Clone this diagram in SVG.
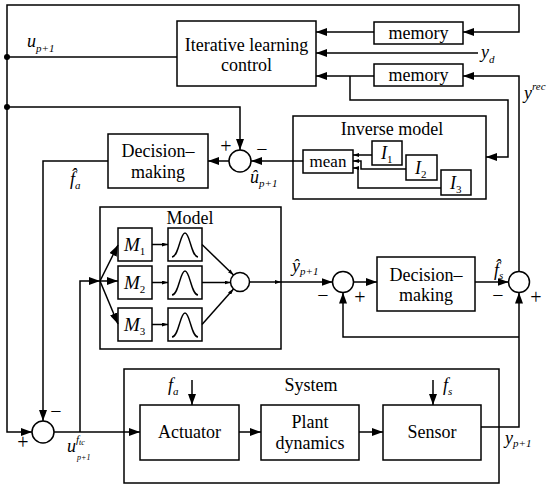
<svg xmlns="http://www.w3.org/2000/svg" width="550" height="489" viewBox="0 0 550 489">
<style>
.b{fill:#fff;stroke:#000;stroke-width:1.5}
.c{fill:none;stroke:#000;stroke-width:1.5}
text{font-family:'Liberation Serif','Times New Roman','DejaVu Serif',serif;fill:#000}
.t{font-size:18px;text-anchor:middle}
.mi{font-size:18px;font-style:italic}
.sb{font-size:11px}
.up{font-style:normal}
.sg{font-size:20px;text-anchor:middle}
</style>
<defs>
<marker id="a" markerUnits="userSpaceOnUse" markerWidth="11" markerHeight="8" refX="11" refY="4" orient="auto"><path d="M0,0 L11,4 L0,8 z" fill="#000"/></marker>
<marker id="s" markerUnits="userSpaceOnUse" markerWidth="6" markerHeight="4" refX="6" refY="2" orient="auto"><path d="M0,0 L6,2 L0,4 z" fill="#000"/></marker>
</defs>
<rect width="550" height="489" fill="#fff"/>

<g id="ilc"><rect class="b" x="177" y="21" width="139" height="65"/>
<text class="t" x="246.5" y="51">Iterative learning</text><text class="t" x="246.5" y="71">control</text></g>
<g id="memory1"><rect class="b" x="374" y="22" width="89" height="22"/><text class="t" x="418.5" y="39">memory</text></g>
<g id="memory2"><rect class="b" x="374" y="64" width="89" height="22"/><text class="t" x="418.5" y="81">memory</text></g>

<g id="inverse-model"><rect class="b" x="293" y="116" width="193" height="83"/>
<text class="t" x="392" y="135">Inverse model</text>
<rect class="b" x="303" y="150" width="50" height="23"/><text class="t" x="328" y="167" style="font-size:17px">mean</text>
<rect class="b" x="372" y="141" width="30" height="24"/><text class="mi" x="381" y="159">I<tspan class="sb up" dy="4">1</tspan></text>
<rect class="b" x="406" y="155" width="31" height="25"/><text class="mi" x="415" y="174">I<tspan class="sb up" dy="4">2</tspan></text>
<rect class="b" x="441" y="170" width="30" height="25"/><text class="mi" x="450" y="189">I<tspan class="sb up" dy="4">3</tspan></text>
</g>

<g id="sum-a"><circle class="b" cx="240" cy="161" r="11"/><text class="sg" x="226" y="153">+</text><text class="sg" x="262" y="156">−</text></g>
<g id="decision1"><rect class="b" x="108" y="134" width="100" height="54"/>
<text class="t" x="158" y="157">Decision–</text><text class="t" x="158" y="178">making</text></g>

<g id="model"><rect class="b" x="100" y="207" width="181" height="142"/>
<text class="t" x="190" y="224">Model</text>
<rect class="b" x="118" y="228" width="34" height="33"/><text class="mi" x="124" y="251" style="font-size:19px">M<tspan class="sb up" dy="4">1</tspan></text>
<rect class="b" x="118" y="266" width="34" height="33"/><text class="mi" x="124" y="289" style="font-size:19px">M<tspan class="sb up" dy="4">2</tspan></text>
<rect class="b" x="118" y="308" width="34" height="33"/><text class="mi" x="124" y="331" style="font-size:19px">M<tspan class="sb up" dy="4">3</tspan></text>
<rect class="b" x="168" y="228" width="34" height="33"/><path class="c" d="M172,257 C179,256 180,233 185,233 C190,233 191,256 198,257"/>
<rect class="b" x="168" y="266" width="34" height="33"/><path class="c" d="M172,295 C179,294 180,271 185,271 C190,271 191,294 198,295"/>
<rect class="b" x="168" y="308" width="34" height="33"/><path class="c" d="M172,337 C179,336 180,313 185,313 C190,313 191,336 198,337"/>
<circle class="b" cx="240" cy="282" r="9.5"/>
</g>

<g id="sum-1"><circle class="b" cx="343" cy="282" r="10.5"/><text class="sg" x="323" y="302">−</text><text class="sg" x="360" y="304">+</text></g>
<g id="decision2"><rect class="b" x="377" y="257" width="98" height="54"/>
<text class="t" x="426" y="281">Decision–</text><text class="t" x="426" y="301">making</text></g>
<g id="sum-2"><circle class="b" cx="519" cy="282" r="10.5"/><text class="sg" x="498" y="302">−</text><text class="sg" x="536" y="304">+</text></g>

<g id="sum-b"><circle class="b" cx="43" cy="432" r="11"/><text class="sg" x="56" y="418">−</text><text class="sg" x="23" y="449">+</text></g>

<g id="system"><rect class="b" x="124" y="369" width="375" height="114"/>
<text class="t" x="311" y="391">System</text>
<rect class="b" x="140" y="405" width="99" height="55"/><text class="t" x="189.5" y="438">Actuator</text>
<rect class="b" x="261" y="405" width="98" height="55"/><text class="t" x="310" y="428">Plant</text><text class="t" x="310" y="449">dynamics</text>
<rect class="b" x="383" y="405" width="98" height="55"/><text class="t" x="432" y="438">Sensor</text>
<text class="mi" x="168" y="391">f<tspan class="sb" dy="4">a</tspan></text>
<text class="mi" x="443" y="391">f<tspan class="sb" dy="4">s</tspan></text>
</g>

<g id="labels">
<text class="mi" x="27" y="47">u<tspan class="sb" dy="5">p+1</tspan></text>
<text class="mi" x="250" y="183">û<tspan class="sb" dy="4">p+1</tspan></text>
<text class="mi" x="70" y="185">f̂<tspan class="sb" dy="4">a</tspan></text>
<text class="mi" x="292" y="272">ŷ<tspan class="sb" dy="3">p+1</tspan></text>
<text class="mi" x="494" y="276">f̂<tspan class="sb" dy="3">s</tspan></text>
<text class="mi" x="481" y="58">y<tspan class="sb" dy="5">d</tspan></text>
<text class="mi" x="524" y="99">y<tspan class="sb" dy="-9">rec</tspan></text>
<text class="mi" x="505" y="444">y<tspan class="sb" dy="3">p+1</tspan></text>
<text class="mi" x="67" y="452">u<tspan class="sb" dy="-9">f</tspan><tspan style="font-size:8px" dy="2">tc</tspan></text>
<text class="mi" x="77" y="460" style="font-size:8px">p+1</text>
</g>

<g id="connectors">
<path class="c" d="M7,57 V5 H519 V32 H463" marker-end="url(#a)"/>
<path class="c" d="M177,57 H7"/>
<path class="c" d="M7,57 V432 H32" marker-end="url(#a)"/>
<path class="c" d="M7,107 H240 V150" marker-end="url(#a)"/>
<path class="c" d="M374,32 H316" marker-end="url(#a)"/>
<path class="c" d="M478,53 H316" marker-end="url(#a)"/>
<path class="c" d="M374,76 H316" marker-end="url(#a)"/>
<path class="c" d="M350,76 V100 H508 V157 H486" marker-end="url(#a)"/>
<path class="c" d="M519,271.5 V76 H463" marker-end="url(#a)"/>
<path class="c" d="M303,161 H251" marker-end="url(#a)"/>
<path class="c" d="M229,161 H208" marker-end="url(#a)"/>
<path class="c" d="M108,161 H43 V421" marker-end="url(#a)"/>
<path class="c" d="M54,432 H140" marker-end="url(#a)"/>
<path class="c" d="M80,432 V281 H100" marker-end="url(#a)"/>
<path class="c" d="M100,281 L118,245" marker-end="url(#a)"/>
<path class="c" d="M100,281 H118" marker-end="url(#a)"/>
<path class="c" d="M100,281 L118,324" marker-end="url(#a)"/>
<path class="c" d="M152,244.5 H168" marker-end="url(#s)"/>
<path class="c" d="M152,282.5 H168" marker-end="url(#s)"/>
<path class="c" d="M152,324.5 H168" marker-end="url(#s)"/>
<path class="c" d="M202,244.5 L233.5,275" marker-end="url(#s)"/>
<path class="c" d="M202,282.5 H230.5" marker-end="url(#s)"/>
<path class="c" d="M202,324.5 L233.5,289" marker-end="url(#s)"/>
<path class="c" d="M249.5,282 H281" marker-end="url(#s)"/>
<path class="c" d="M281,282 H332.5" marker-end="url(#a)"/>
<path class="c" d="M353.5,282 H377" marker-end="url(#a)"/>
<path class="c" d="M475,282 H508.5" marker-end="url(#a)"/>
<path class="c" d="M481,427 H519 V292.5" marker-end="url(#a)"/>
<path class="c" d="M519,337 H343 V292.5" marker-end="url(#a)"/>
<path class="c" d="M192,380 V405" marker-end="url(#a)"/>
<path class="c" d="M433,380 V405" marker-end="url(#a)"/>
<path class="c" d="M239,432 H261" marker-end="url(#a)"/>
<path class="c" d="M359,432 H383" marker-end="url(#a)"/>
<path class="c" d="M372,155 H353" marker-end="url(#s)"/>
<path class="c" d="M406,169 H361 V161 H353" marker-end="url(#s)"/>
<path class="c" d="M441,188 H358 V168 H353" marker-end="url(#s)"/>
<circle cx="7" cy="57" r="3" fill="#000"/>
<circle cx="7" cy="107" r="3" fill="#000"/>
</g>
</svg>
